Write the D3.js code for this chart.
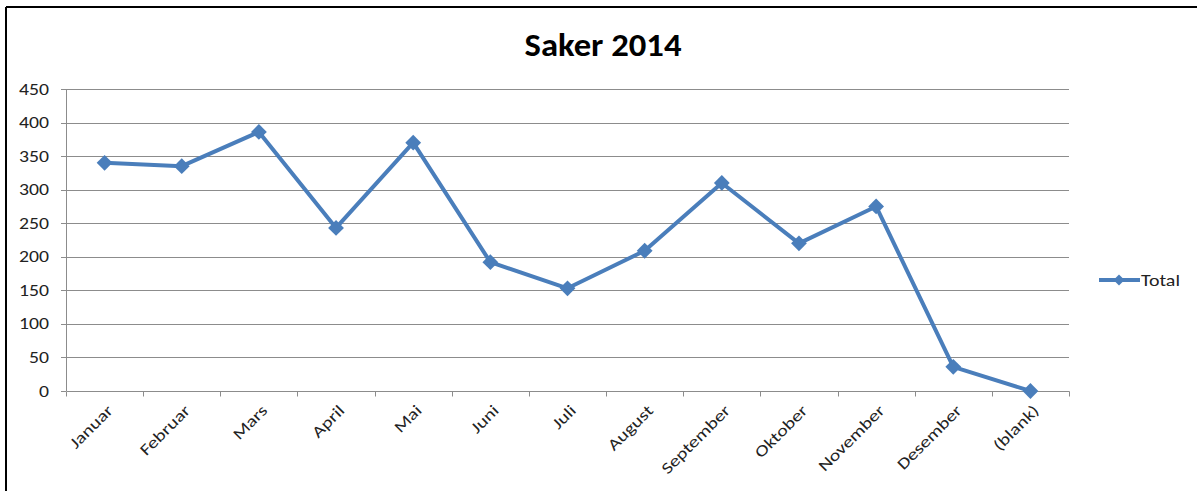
<!DOCTYPE html>
<html>
<head>
<meta charset="utf-8">
<script src="https://cdn.jsdelivr.net/npm/d3@7"></script>
<style>
  body { margin: 0; background: #fff; }
  svg text { font-family: Carlito, Lato, "Liberation Sans", sans-serif; }
</style>
</head>
<body>
<div id="chart"></div>
<script>
var months = ['Januar', 'Februar', 'Mars', 'April', 'Mai', 'Juni', 'Juli',
  'August', 'September', 'Oktober', 'November', 'Desember', '(blank)'];
var totals = [340, 335, 386, 243, 370, 192, 153, 209, 310, 220, 275, 36, 0];
var yTicks = [0, 50, 100, 150, 200, 250, 300, 350, 400, 450];

var width = 1197,
  height = 491,
  blue = '#4a7ebb',
  grid = '#8c8c8c';

var svg = d3.select('#chart')
  .append('svg')
  .attr('width', width)
  .attr('height', height);

// horizontal stretch so the text width matches the wider original font
function stretch(node, target) {
  return target / node.getComputedTextLength();
}

// frame of the embedded chart (only top and left edges are visible)
svg.append('line')
  .attr('x1', 6).attr('y1', 7).attr('x2', width).attr('y2', 7)
  .attr('stroke', '#000').attr('stroke-width', 2);
svg.append('line')
  .attr('x1', 6).attr('y1', 7).attr('x2', 6).attr('y2', height)
  .attr('stroke', '#000').attr('stroke-width', 2);

var title = svg.append('text')
  .attr('text-anchor', 'middle')
  .style('font-size', '32px')
  .style('font-weight', 'bold')
  .text('Saker 2014');
title.attr('transform', 'translate(603,56) scale(' + stretch(title.node(), 157) + ',1)');

var x = d3.scaleBand()
  .domain(months)
  .range([66, 1069]);

var y = d3.scaleLinear()
  .domain([0, 450])
  .range([391, 89]);

// gridlines
svg.append('g')
  .selectAll('line')
  .data(yTicks.slice(1))
  .enter().append('line')
  .attr('x1', 66).attr('x2', 1069)
  .attr('y1', function(d) { return Math.round(y(d)) + 0.5; })
  .attr('y2', function(d) { return Math.round(y(d)) + 0.5; })
  .attr('stroke', grid)
  .attr('stroke-width', 1);

// y axis
var yAxis = svg.append('g');
yAxis.append('line')
  .attr('x1', 66.5).attr('x2', 66.5)
  .attr('y1', y(450)).attr('y2', y(0))
  .attr('stroke', grid);
yAxis.selectAll('.yt')
  .data(yTicks)
  .enter().append('line')
  .attr('class', 'yt')
  .attr('x1', 61).attr('x2', 66)
  .attr('y1', function(d) { return Math.round(y(d)) + 0.5; })
  .attr('y2', function(d) { return Math.round(y(d)) + 0.5; })
  .attr('stroke', grid);
var yLabels = yAxis.selectAll('.yl')
  .data(yTicks)
  .enter().append('text')
  .attr('class', 'yl')
  .attr('text-anchor', 'end')
  .attr('dy', '0.35em')
  .style('font-size', '16px')
  .attr('fill', '#222')
  .text(function(d) { return d; });
var ySx = stretch(yLabels.filter(function(d) { return d === 450; }).node(), 30);
yLabels.attr('transform', function(d) {
  return 'translate(49,' + y(d) + ') scale(' + ySx + ',1)';
});

// x axis
var xAxis = svg.append('g')
  .attr('transform', 'translate(0.5,391.5)');
xAxis.append('line')
  .attr('x1', 66).attr('x2', 1069)
  .attr('stroke', grid);
xAxis.selectAll('.xt')
  .data(d3.range(months.length + 1))
  .enter().append('line')
  .attr('class', 'xt')
  .attr('x1', function(i) { return Math.round(66 + i * x.step()); })
  .attr('x2', function(i) { return Math.round(66 + i * x.step()); })
  .attr('y1', 0).attr('y2', 5)
  .attr('stroke', grid);
var xLabels = xAxis.selectAll('.xl')
  .data(months)
  .enter().append('text')
  .attr('class', 'xl')
  .attr('text-anchor', 'end')
  .style('font-size', '16px')
  .attr('fill', '#222')
  .text(function(d) { return d; });
var xSx = stretch(xLabels.filter(function(d) { return d === 'September'; }).node(), 90);
xLabels.attr('transform', function(d) {
  return 'translate(' + (x(d) + x.bandwidth() / 2 + 9) + ',20) rotate(-45) scale(' + xSx + ',1)';
});

// series line
var line = d3.line()
  .x(function(d, i) { return x(months[i]) + x.bandwidth() / 2; })
  .y(function(d) { return y(d); });

svg.append('path')
  .datum(totals)
  .attr('d', line)
  .attr('fill', 'none')
  .attr('stroke', blue)
  .attr('stroke-width', 4)
  .attr('stroke-linejoin', 'round');

var diamond = d3.symbol().type(d3.symbolSquare).size(125);

svg.selectAll('.pt')
  .data(totals)
  .enter().append('path')
  .attr('class', 'pt')
  .attr('d', diamond)
  .attr('fill', blue)
  .attr('transform', function(d, i) {
    return 'translate(' + (x(months[i]) + x.bandwidth() / 2) + ',' + y(d) + ') rotate(45)';
  });

// legend
var legend = svg.append('g').attr('transform', 'translate(1099,280)');
legend.append('line')
  .attr('x1', 0).attr('x2', 41)
  .attr('stroke', blue)
  .attr('stroke-width', 4);
legend.append('path')
  .attr('d', d3.symbol().type(d3.symbolSquare).size(60))
  .attr('fill', blue)
  .attr('transform', 'translate(20,0) rotate(45)');
var legendText = legend.append('text')
  .attr('dy', '0.35em')
  .style('font-size', '16px')
  .attr('fill', '#222')
  .text('Total');
legendText.attr('transform', 'translate(42,0) scale(' + stretch(legendText.node(), 39) + ',1)');
</script>
</body>
</html>
